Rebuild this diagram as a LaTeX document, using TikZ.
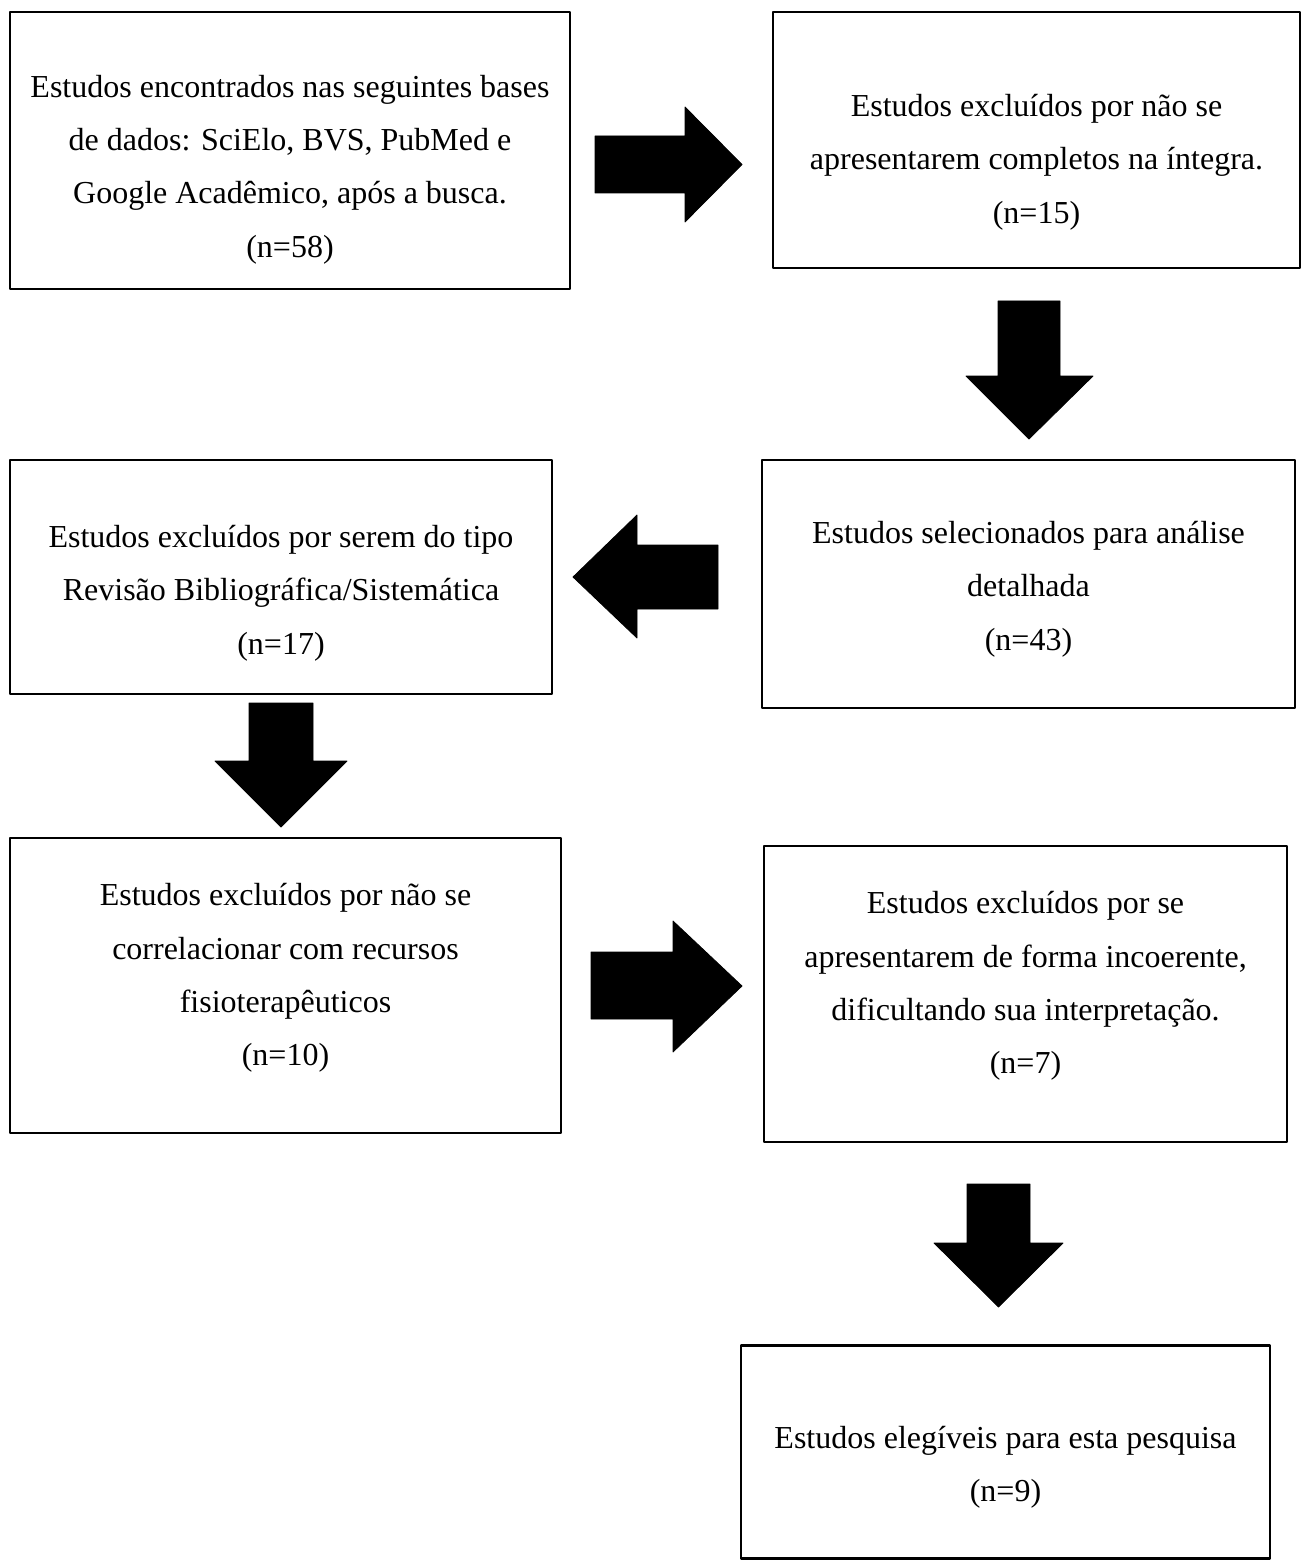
\documentclass[tikz,border=0pt]{standalone}
\usepackage{fontspec}
\setmainfont{Liberation Serif}
\usepackage{tikz}

\begin{document}
\begin{tikzpicture}[x=0.375pt,y=-0.375pt,join=round,
    caixa/.style={draw,line width=0.9pt,inner sep=0pt},
    texto/.style={align=center,inner sep=0pt,font=\fontsize{12}{20}\selectfont},
    seta/.style={fill=black,draw=black,line width=0.3pt}] % fluxograma da selecao dos estudos
   \useasboundingbox (0,0) rectangle (1310,1562);
   % caixas
   \node[caixa,minimum width=560*0.375pt,minimum height=277*0.375pt] (c1) at (290,150.5) {};
   \node[caixa,minimum width=527*0.375pt,minimum height=256*0.375pt] (c2) at (1036.5,140) {};
   \node[caixa,minimum width=533*0.375pt,minimum height=248*0.375pt] (c3) at (1028.5,584) {};
   \node[caixa,minimum width=542*0.375pt,minimum height=234*0.375pt] (c4) at (281,577) {};
   \node[caixa,minimum width=551*0.375pt,minimum height=295*0.375pt] (c5) at (285.5,985.5) {};
   \node[caixa,minimum width=523*0.375pt,minimum height=296*0.375pt] (c6) at (1025.5,994) {};
   \node[caixa,minimum width=529*0.375pt,minimum height=213*0.375pt] (c7) at (1005.5,1452) {};
   % textos
   \node[texto] (t1) at (290,169.5) {Estudos encontrados nas seguintes bases\\de dados: SciElo, BVS, PubMed e\\Google Acadêmico, após a busca.\\(n=58)};
   \node[texto] (t2) at (1036.5,162) {Estudos excluídos por não se\\apresentarem completos na íntegra.\\(n=15)};
   \node[texto] (t3) at (1028.5,589) {Estudos selecionados para análise\\detalhada\\(n=43)};
   \node[texto] (t4) at (281,593) {Estudos excluídos por serem do tipo\\Revisão Bibliográfica/Sistemática\\(n=17)};
   \node[texto] (t5) at (285.5,978) {Estudos excluídos por não se\\correlacionar com recursos\\fisioterapêuticos\\(n=10)};
   \node[texto] (t6) at (1025.5,986) {Estudos excluídos por se\\apresentarem de forma incoerente,\\dificultando sua interpretação.\\(n=7)};
   \node[texto] (t7) at (1005.5,1467) {Estudos elegíveis para esta pesquisa\\(n=9)};
   % setas em bloco
   \filldraw[seta](595,136)--(685,136)--(685,107)--(742,164.5)--(685,222)--(685,193)--(595,193)--cycle;
   \filldraw[seta](998,301)--(1060,301)--(1060,376)--(1093,376)--(1029,439)--(966,376)--(998,376)--cycle;
   \filldraw[seta](718,545)--(637,545)--(637,515)--(573,577)--(637,638)--(637,609)--(718,609)--cycle;
   \filldraw[seta](249,703)--(313,703)--(313,761)--(347,761)--(281,827)--(215,761)--(249,761)--cycle;
   \filldraw[seta](591,952)--(673,952)--(673,921)--(742,986)--(673,1052)--(673,1019)--(591,1019)--cycle;
   \filldraw[seta](967,1184)--(1030,1184)--(1030,1243)--(1063,1243)--(998.5,1307)--(934,1243)--(967,1243)--cycle;
\end{tikzpicture}
\end{document}
